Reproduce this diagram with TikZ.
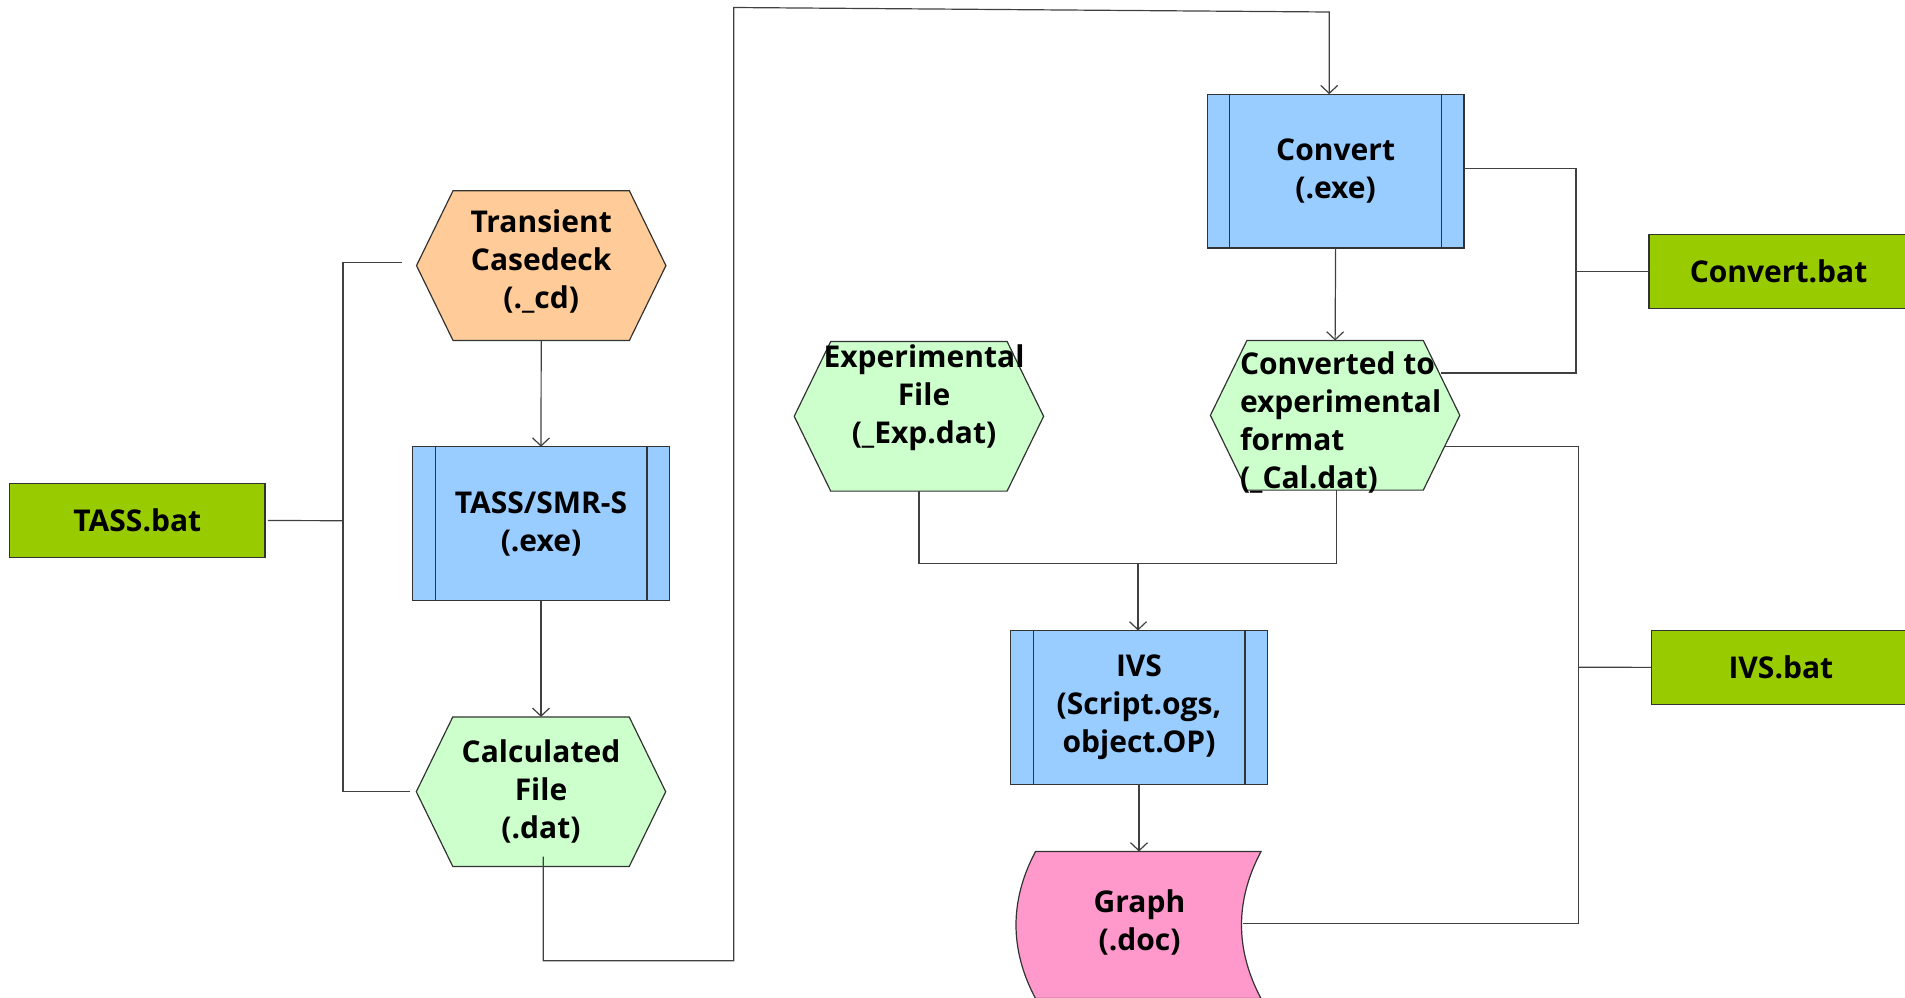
\documentclass[tikz,border=0pt]{standalone}
\usepackage{fontspec}
\IfFontExistsTF{Open Sans Bold}{%
  \setmainfont{Open Sans}[BoldFont={Open Sans Bold}]}{%
  \IfFontExistsTF{PT Sans Bold}{%
    \setmainfont{PT Sans}[BoldFont={PT Sans Bold}]}{%
    \setmainfont{Noto Sans}[AutoFakeBold=2]}}
\usetikzlibrary{arrows.meta,calc}
\pgfdeclarelayer{background}
\pgfsetlayers{background,main}
\definecolor{peach}{HTML}{FFCC99}
\definecolor{procblue}{HTML}{99CCFF}
\definecolor{filegreen}{HTML}{CCFFCC}
\definecolor{batgreen}{HTML}{99CC00}
\definecolor{graphpink}{HTML}{FF99CC}
\definecolor{edgegray}{HTML}{333333}
\definecolor{wiregray}{HTML}{404040}
\tikzset{
  every node/.style={font=\fontsize{15}{19}\selectfont\bfseries, inner sep=0pt, outer sep=0pt, align=center},
  batbox/.style={rectangle, fill=batgreen, draw=edgegray, line width=0.6pt, minimum width=#1, minimum height=37pt},
  procbox/.style={rectangle, fill=procblue, draw=edgegray, line width=0.6pt, minimum width=128.4pt, minimum height=76.9pt},
  hexbox/.style={rectangle, minimum width=124.7pt, minimum height=74.8pt},
  wire/.style={draw=wiregray, line width=0.6pt},
  arr/.style={wire, -{Straight Barb[length=4pt,width=8.5pt]}},
  shapeline/.style={draw=edgegray, line width=0.6pt},
}
\newcommand{\hexshape}[2]{%
  \path[shapeline, fill=#2] (#1.west) -- ([xshift=18.25pt]#1.north west) -- ([xshift=-18.25pt]#1.north east)
    -- (#1.east) -- ([xshift=-18.25pt]#1.south east) -- ([xshift=18.25pt]#1.south west) -- cycle;}
\newcommand{\procbars}[1]{%
  \draw[shapeline] ([xshift=11.25pt]#1.north west) -- ([xshift=11.25pt]#1.south west);
  \draw[shapeline] ([xshift=-11.25pt]#1.north east) -- ([xshift=-11.25pt]#1.south east);}
\begin{document}
\begin{tikzpicture}[x=0.5pt,y=-0.5pt]
\useasboundingbox (0,0) rectangle (1905,997);

% ---------- nodes ----------
\node[batbox=127.65pt] (tassbat) at (137.3,520.5) {TASS.bat};
\node[hexbox] (trans) at (541.2,265.6) {};
\node[procbox] (tass) at (541,523.6) {TASS/SMR-S\\(.exe)};
\node[hexbox] (calc) at (541,791.7) {Calculated\\File\\(.dat)};
\node[procbox] (convx) at (1335.6,171.1) {Convert\\(.exe)};
\node[batbox=129.5pt] (convbat) at (1778.5,271.3) {Convert.bat};
\node[hexbox] (expf) at (918.9,416.3) {};
\node[hexbox] (convd) at (1335.1,415.3) {};
\node[procbox] (ivs) at (1139,707.4) {IVS\\(Script.ogs,\\object.OP)};
\node[batbox=129.15pt] (ivsbat) at (1780.85,667.35) {IVS.bat};
\node[rectangle, minimum width=122.5pt, minimum height=73.5pt] (graph) at (1138.5,925) {};

% ---------- shapes behind text ----------
\begin{pgfonlayer}{background}
  \hexshape{trans}{peach}
  \hexshape{calc}{filegreen}
  \hexshape{expf}{filegreen}
  \hexshape{convd}{filegreen}
  \path[shapeline, fill=graphpink] (1035.5,851.5) -- (1261,851.5)
    .. controls (1235,900.5) and (1235,949.5) .. (1261,998.5)
    -- (1035.5,998.5)
    .. controls (1009.5,949.5) and (1009.5,900.5) .. (1035.5,851.5) -- cycle;
\end{pgfonlayer}

\procbars{tass}
\procbars{convx}
\procbars{ivs}

% ---------- texts placed off the shape centres ----------
\node (transtext) at (541.2,261.8) {Transient\\Casedeck\\(.\_cd)};
\node (expftext) at (924,398) {Experimental\\File\\(\_Exp.dat)};
\node[align=left, anchor=west] (convdtext) at (1240,422.5) {Converted to\\experimental\\format\\(\_Cal.dat)};
\node (graphtext) at (1139.5,922.5) {Graph\\(.doc)};

% ---------- connectors ----------
\coordinate (brk) at (343,520.7);
\coordinate (cbk) at (1576,271.3);
\coordinate (ibk) at (1578.5,667.3);
\coordinate (mrg) at (1138,563.3);
\coordinate (c1) at (733.8,960.7);
\coordinate (c2) at (733.8,7.5);
\coordinate (c3) at (1329.2,12);

\draw[arr] (trans.south) -- (tass.north);
\draw[arr] (tass.south) -- (calc.north);
\draw[wire] ([shift={(-15,-3)}]trans.west) -| (brk) |- ([xshift=-3pt]calc.west);
\draw[wire] ([xshift=1.5pt]tassbat.east) -- (brk);

\draw[arr] ([shift={(2.3,-10)}]calc.south) |- (c1) -- (c2) -- (c3) -- (c3 |- convx.north);
\draw[arr] (convx.south) -- (convd.north);
\draw[wire] ([yshift=1.2pt]convx.east) -| (cbk) |- ([shift={(105.9,-42.3)}]convd.center);
\draw[wire] (convbat.west) -- (cbk);

\draw[wire] ([shift={(109.9,31.4)}]convd.center) -| (ibk) |- ([shift={(-18.5,-1.5)}]graph.east);
\draw[wire] (ivsbat.west) -- (ibk);

\draw[wire] (expf.south) |- (mrg) -| ([xshift=0.8pt]convd.south);
\draw[arr] (mrg) -- (mrg |- ivs.north);
\draw[arr] (ivs.south) -- (ivs.south |- graph.north);
\end{tikzpicture}
\end{document}
